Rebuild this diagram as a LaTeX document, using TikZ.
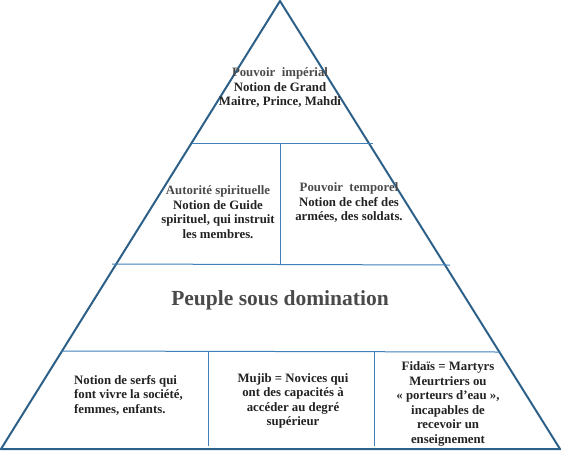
\documentclass[tikz,border=0pt]{standalone}
\usepackage{fontspec}
\setmainfont{Liberation Serif}
\definecolor{edge}{HTML}{2C6088}
\definecolor{inner}{HTML}{3F80B8}
\definecolor{headc}{HTML}{4A4A4A}
\definecolor{bodyc}{HTML}{222222}
\tikzset{
  outline/.style={draw=edge, line width=2pt, line join=miter},
  divider/.style={draw=inner, line width=1pt},
  label/.style={align=center, inner sep=0pt, font=\fontsize{12.8}{14.5}\selectfont\bfseries, text=bodyc},
  leftlabel/.style={label, align=left},
}
\begin{document}
\begin{tikzpicture}[x=1pt,y=-1pt]
\useasboundingbox (0,0) rectangle (561,459);
% triangle
\coordinate (apex) at (280,1);
\coordinate (bl) at (1,449);
\coordinate (br) at (560,449);
\draw[outline] (apex) -- (br) -- (bl) -- cycle;
% dividers
\coordinate (h1l) at (192,143); \coordinate (h1r) at (373,143);
\coordinate (v1t) at (280,143); \coordinate (v1b) at (280,265);
\coordinate (h2l) at (112,264); \coordinate (h2r) at (450,265);
\coordinate (h3l) at (61,351); \coordinate (h3r) at (500,352);
\coordinate (v2t) at (208,352); \coordinate (v2b) at (208,446);
\coordinate (v3t) at (374,352); \coordinate (v3b) at (374,446);
\draw[divider] (h1l) -- (h1r);
\draw[divider] (v1t) -- (v1b);
\draw[divider] (h2l) -- (h2r);
\draw[divider] (h3l) -- (h3r);
\draw[divider] (v2t) -- (v2b);
\draw[divider] (v3t) -- (v3b);
% texts
\node[label] (top) at (280,88) {{\color{headc}Pouvoir\ \ impérial}\\Notion de Grand\\Maitre, Prince, Mahdi};
\node[label] (spir) at (218,212) {{\color{headc}Autorité spirituelle}\\Notion de Guide\\spirituel, qui instruit\\les membres.};
\node[label] (temp) at (349,203) {{\color{headc}Pouvoir\ \ temporel}\\Notion de chef des\\armées, des soldats.};
\node[label, font=\fontsize{21.5}{24}\selectfont\bfseries, text=headc] (peuple) at (280,300) {Peuple sous domination};
\node[leftlabel, anchor=west] (serfs) at (74,395) {Notion de serfs qui\\font vivre la société,\\femmes, enfants.};
\node[label] (mujib) at (293,401) {Mujib = Novices qui\\ont des capacités à\\accéder au degré\\supérieur};
\node[label] (fidais) at (448,404) {Fidaïs = Martyrs\\Meurtriers ou\\« porteurs d'eau »,\\incapables de\\recevoir un\\enseignement};
\end{tikzpicture}
\end{document}
